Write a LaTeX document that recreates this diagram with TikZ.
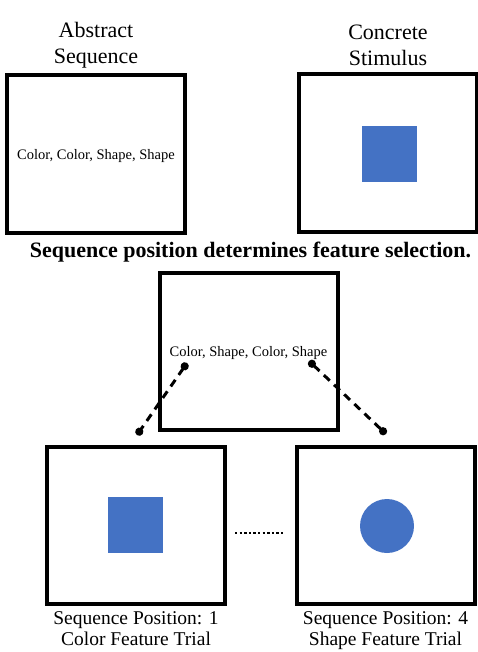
\documentclass[tikz,border=0pt]{standalone}
\usepackage{fontspec}
\setmainfont{Liberation Serif}
\usetikzlibrary{arrows.meta,positioning}
\definecolor{stimblue}{HTML}{4472C4}

\begin{document}
\begin{tikzpicture}[
  x=1pt, y=-1pt,
  frame/.style={draw, line width=4pt, minimum width=178pt,
                minimum height=157pt, inner sep=0pt},
  head/.style={align=center, font=\fontsize{22}{26}\selectfont},
  caption/.style={align=center, font=\fontsize{19.5}{21}\selectfont},
  seq/.style={font=\fontsize{14.5}{17}\selectfont, text depth=0pt},
  stim/.style={fill=stimblue, draw=none, inner sep=0pt},
  link/.style={{Circle[length=8pt]}-{Circle[length=8pt]}, line width=3pt,
               dash pattern=on 8pt off 6pt},
  dots/.style={line width=2.5pt, dash pattern=on 2.4pt off 2.2pt}
]
\useasboundingbox (0,0) rectangle (477,652);

% --- Top: sequence and stimulus ---
\node[frame, seq] (abs) at (96,154) {Color, Color, Shape, Shape};
\node[frame] (con) at (388,153) {};
\node[stim, minimum width=55pt, minimum height=56pt] (sq1) at (389,154) {};

\node[head, above=3pt of con] (conlbl) {Concrete\\Stimulus};
\node[head] (abslbl) at (abs |- conlbl) {Abstract\\Sequence};

% --- Title ---
\node[font=\fontsize{22}{26}\selectfont\bfseries] (title) at (250.5,252)
  {Sequence position determines feature selection.};

% --- Middle: mixed sequence ---
\node[frame, seq] (mix) at (248.5,351.5) {Color, Shape, Color, Shape};

% --- Bottom: trials ---
\node[frame] (trial1) at (136,525.5) {};
\node[frame] (trial4) at (385.5,525.5) {};
\node[stim, minimum width=55pt, minimum height=56pt] (sq2) at (135.5,525) {};
\node[stim, circle, minimum size=54pt] (circ) at (387,526) {};

\node[caption, below=2pt of trial1] (cap1) {Sequence Position: 1\\Color Feature Trial};
\node[caption, below=2pt of trial4] (cap4) {Sequence Position: 4\\Shape Feature Trial};

% --- Links ---
\coordinate (pos1) at (187,363);
\coordinate (pos4) at (309,361);
\coordinate (in1) at (137,435);
\coordinate (in4) at (386,434);
\draw[link] (pos1) -- (in1);
\draw[link] (pos4) -- (in4);

\draw[dots, shorten <=8pt, shorten >=9pt]
  ([yshift=-7.5pt]trial1.east) -- ([yshift=-7.5pt]trial4.west);
\end{tikzpicture}
\end{document}
